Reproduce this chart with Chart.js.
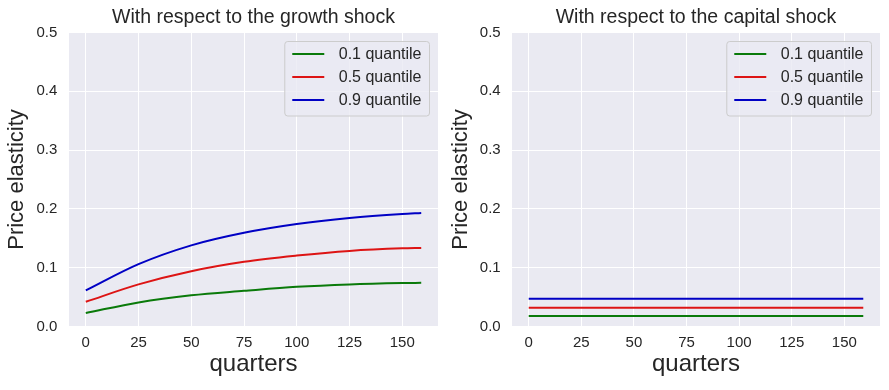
<!DOCTYPE html>
<html>
<head>
<meta charset="utf-8">
<script src="https://cdn.jsdelivr.net/npm/chart.js@4.4.0/dist/chart.umd.min.js"></script>
<style>
  html, body { margin: 0; padding: 0; background: #ffffff; }
  #wrap { position: relative; width: 889px; height: 390px; }
  #growthChart { position: absolute; left: 0; top: 0; }
  #capitalChart { position: absolute; left: 445px; top: 0; }
</style>
</head>
<body>
<div id="wrap">
  <canvas id="growthChart" width="445" height="390"></canvas>
  <canvas id="capitalChart" width="444" height="390"></canvas>
</div>
<script>
const quarters = [0, 25, 50, 75, 100, 125, 150, 159];
const xTicks = [0, 25, 50, 75, 100, 125, 150];
const yTicks = [0, 0.1, 0.2, 0.3, 0.4, 0.5];
const quantileLabels = ['0.1 quantile', '0.5 quantile', '0.9 quantile'];
const quantileColors = ['#0a7a0a', '#dd1414', '#0000c4'];

// with respect to the growth shock
const growthQ10 = [0.023, 0.041, 0.053, 0.0606, 0.0675, 0.0716, 0.0738, 0.0742];
const growthQ50 = [0.042, 0.0716, 0.094, 0.110, 0.1206, 0.1286, 0.133, 0.1337];
const growthQ90 = [0.0613, 0.106, 0.138, 0.1594, 0.1743, 0.1846, 0.1914, 0.1931];

// with respect to the capital shock
const capitalQ10 = [0.0178, 0.0178, 0.0178, 0.0178, 0.0178, 0.0178, 0.0178, 0.0178];
const capitalQ50 = [0.032, 0.032, 0.032, 0.032, 0.032, 0.032, 0.032, 0.032];
const capitalQ90 = [0.0474, 0.0474, 0.0474, 0.0474, 0.0474, 0.0474, 0.0474, 0.0474];

const FONT = '"Liberation Sans", Arial, sans-serif';
const TEXT = '#262626';

const plotBackground = {
    id: 'plotBackground',
    beforeDraw(chart) {
        const { ctx, chartArea: a } = chart;
        ctx.save();
        ctx.fillStyle = '#eaeaf2';
        ctx.fillRect(a.left, a.top, a.right - a.left, a.bottom - a.top);
        ctx.restore();
    }
};

// matplotlib-like legend box in the upper right corner of the plot
const legendBox = {
    id: 'legendBox',
    afterDraw(chart) {
        const { ctx, chartArea: a } = chart;
        const sets = chart.data.datasets;
        ctx.save();
        ctx.font = '16px ' + FONT;
        const textW = Math.max(...sets.map(d => ctx.measureText(d.label).width));
        const w = 54 + textW + 8;
        const h = 74.5;
        const x = a.right - 8.5 - w;
        const y = a.top + 9;
        ctx.beginPath();
        ctx.roundRect(x, y, w, h, 3);
        ctx.fillStyle = 'rgba(234, 234, 242, 0.8)';
        ctx.fill();
        ctx.strokeStyle = '#cccccc';
        ctx.lineWidth = 1;
        ctx.stroke();
        sets.forEach((d, i) => {
            const ry = y + 12.6 + i * 23;
            ctx.beginPath();
            ctx.moveTo(x + 7.5, ry);
            ctx.lineTo(x + 39.5, ry);
            ctx.strokeStyle = d.borderColor;
            ctx.lineWidth = 2;
            ctx.stroke();
            ctx.fillStyle = TEXT;
            ctx.textBaseline = 'middle';
            ctx.textAlign = 'left';
            ctx.fillText(d.label, x + 54, ry);
        });
        ctx.restore();
    }
};

function buildChart(id, title, series, box) {
    const ctx = document.getElementById(id).getContext('2d');
    return new Chart(ctx, {
        type: 'line',
        data: {
            datasets: series.map((vals, i) => ({
                label: quantileLabels[i],
                data: quarters.map((q, j) => ({ x: q, y: vals[j] })),
                borderColor: quantileColors[i],
                backgroundColor: quantileColors[i],
                borderWidth: 2,
                pointRadius: 0,
                fill: false,
                cubicInterpolationMode: 'monotone'
            }))
        },
        options: {
            responsive: false,
            animation: false,
            layout: { padding: { left: 0, right: box.padRight, top: 0, bottom: 0 } },
            plugins: {
                legend: { display: false },
                tooltip: { enabled: false },
                title: {
                    display: true,
                    text: title,
                    fullSize: false,
                    color: TEXT,
                    font: { family: FONT, size: 19.5, weight: 'normal' },
                    padding: { top: 5.6, bottom: 3.5 }
                }
            },
            scales: {
                x: {
                    type: 'linear',
                    min: -7.95,
                    max: 166.95,
                    afterBuildTicks: s => { s.ticks = xTicks.map(v => ({ value: v })); },
                    afterFit: s => { s.height = 63.5; },
                    grid: { color: '#ffffff', lineWidth: 1, drawTicks: false },
                    border: { display: false },
                    ticks: {
                        color: TEXT,
                        font: { family: FONT, size: 15 },
                        padding: 7.6,
                        callback: v => String(v)
                    },
                    title: {
                        display: true,
                        text: 'quarters',
                        color: TEXT,
                        font: { family: FONT, size: 24 },
                        padding: { top: 0, bottom: 11.2 }
                    }
                },
                y: {
                    min: 0,
                    max: 0.5,
                    afterBuildTicks: s => { s.ticks = yTicks.map(v => ({ value: v })); },
                    afterFit: s => { s.width = box.yWidth; },
                    grid: { color: '#ffffff', lineWidth: 1, drawTicks: false },
                    border: { display: false },
                    ticks: {
                        color: TEXT,
                        font: { family: FONT, size: 15 },
                        padding: box.tickPad,
                        callback: v => v.toFixed(1)
                    },
                    title: {
                        display: true,
                        text: 'Price elasticity',
                        color: TEXT,
                        font: { family: FONT, size: 22 },
                        padding: { top: box.titlePad, bottom: 0 }
                    }
                }
            }
        },
        plugins: [plotBackground, legendBox]
    });
}

document.addEventListener('DOMContentLoaded', () => {
    buildChart('growthChart', 'With respect to the growth shock',
        [growthQ10, growthQ50, growthQ90],
        { yWidth: 69, padRight: 7, tickPad: 11.7, titlePad: 4.2 });
    buildChart('capitalChart', 'With respect to the capital shock',
        [capitalQ10, capitalQ50, capitalQ90],
        { yWidth: 67, padRight: 9, tickPad: 11.3, titlePad: 3.2 });
});
</script>
</body>
</html>
